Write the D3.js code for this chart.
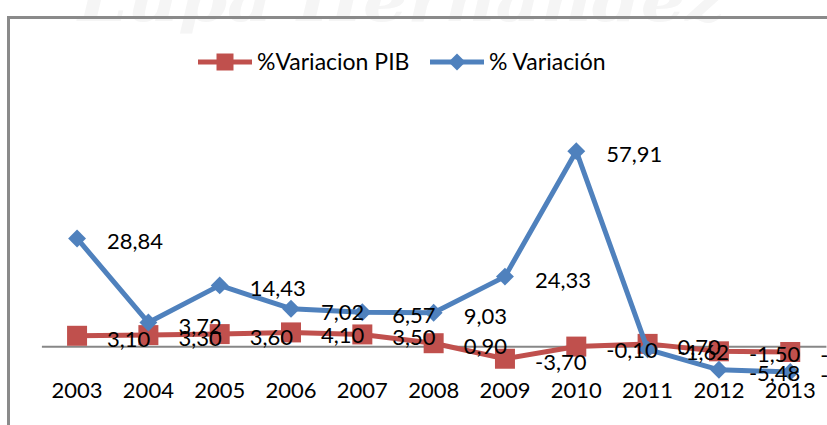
<!DOCTYPE html>
<html>
<head>
<meta charset="utf-8">
<script src="https://cdn.jsdelivr.net/npm/d3@7"></script>
<style>
  body { margin: 0; background: #fff; }
  text { font-family: Lato, "Open Sans", sans-serif; }
</style>
</head>
<body>
<div id="chartDiv"></div>
<script>
// years on the x axis
var years = ["2003", "2004", "2005", "2006", "2007", "2008", "2009", "2010", "2011", "2012", "2013"];
// %Variacion PIB
var pib = [3.10, 3.30, 3.60, 4.10, 3.50, 0.90, -3.70, -0.10, 0.70, -1.50, -1.70];
// % Variación (stacked on top of PIB, like the excel "stacked line" chart)
var variacion = [28.84, 3.72, 14.43, 7.02, 6.57, 9.03, 24.33, 57.91, -1.62, -5.48, -5.90];
var seriesNames = ["%Variacion PIB", "% Variación"];

var width = 827, height = 425;
var red = "#C0504D", blue = "#4F81BD";

var svg = d3.select("#chartDiv").append("svg")
    .attr("width", width)
    .attr("height", height);

// faint watermark on top
svg.append("text")
    .attr("x", 78)
    .attr("y", 21)
    .attr("textLength", 647)
    .attr("lengthAdjust", "spacingAndGlyphs")
    .style("font-family", "'DejaVu Serif', serif")
    .style("font-weight", "bold")
    .style("font-style", "italic")
    .style("font-size", "58px")
    .style("fill", "#f5f5f5")
    .text("Lupa Hernandez");

// chart frame (runs off the right and bottom)
svg.append("path")
    .attr("d", "M8.5," + (height + 5) + "V17.5H" + (width + 5))
    .attr("fill", "none")
    .attr("stroke", "#8a8a8a")
    .attr("stroke-width", 3);

var x = d3.scaleBand()
    .domain(years)
    .range([41.4, 825.9]);

var y = d3.scaleLinear()
    .domain([-10, 70])
    .range([380, 110]);

var cx = function(d, i) { return x(years[i]) + x.bandwidth() / 2; };

var locale = d3.formatLocale({decimal: ",", thousands: ".", grouping: [3], currency: ["", ""], minus: "-"});
var fmt = locale.format(".2f");

var totals = pib.map(function(p, i) { return p + variacion[i]; });

// category axis on the zero line
var xAxis = d3.axisBottom(x)
    .tickSize(0)
    .tickSizeOuter(0)
    .tickPadding(36);

var gx = svg.append("g")
    .attr("transform", "translate(0," + y(0) + ")")
    .call(xAxis);
gx.select(".domain").attr("stroke", "#878787").attr("stroke-width", 2);
gx.selectAll(".tick text")
    .style("font-family", "Lato, sans-serif")
    .style("font-size", "22px")
    .attr("fill", "#000");

var line = d3.line()
    .x(cx)
    .y(function(d) { return y(d); });

// PIB series
svg.append("path")
    .datum(pib)
    .attr("d", line)
    .attr("fill", "none")
    .attr("stroke", red)
    .attr("stroke-width", 5)
    .attr("stroke-linejoin", "round");

svg.selectAll(".pibMark")
    .data(pib)
    .enter().append("path")
    .attr("class", "pibMark")
    .attr("d", d3.symbol(d3.symbolSquare, 400))
    .attr("transform", function(d, i) { return "translate(" + cx(d, i) + "," + y(d) + ")"; })
    .attr("fill", red);

// variacion series, stacked
svg.append("path")
    .datum(totals)
    .attr("d", line)
    .attr("fill", "none")
    .attr("stroke", blue)
    .attr("stroke-width", 5)
    .attr("stroke-linejoin", "round");

svg.selectAll(".varMark")
    .data(totals)
    .enter().append("path")
    .attr("class", "varMark")
    .attr("d", d3.symbol(d3.symbolSquare, 160))
    .attr("transform", function(d, i) { return "translate(" + cx(d, i) + "," + y(d) + ") rotate(45)"; })
    .attr("fill", blue);

// data labels, to the right of the points
svg.selectAll(".pibLabel")
    .data(pib)
    .enter().append("text")
    .attr("class", "pibLabel")
    .attr("x", function(d, i) { return cx(d, i) + 30; })
    .attr("y", function(d) { return y(d); })
    .attr("dy", "0.5em")
    .style("font-size", "22px")
    .text(function(d) { return fmt(d); });

svg.selectAll(".varLabel")
    .data(variacion)
    .enter().append("text")
    .attr("class", "varLabel")
    .attr("x", function(d, i) { return cx(d, i) + 30; })
    .attr("y", function(d, i) { return y(totals[i]); })
    .attr("dy", "0.5em")
    .style("font-size", "22px")
    .text(function(d) { return fmt(d); });

// legend
var legend = svg.append("g");
var items = [
    {name: seriesNames[0], color: red, x0: 198, shape: "square"},
    {name: seriesNames[1], color: blue, x0: 430, shape: "diamond"}
];
items.forEach(function(it) {
    legend.append("line")
        .attr("x1", it.x0).attr("x2", it.x0 + 54)
        .attr("y1", 62).attr("y2", 62)
        .attr("stroke", it.color)
        .attr("stroke-width", 5);
    legend.append("path")
        .attr("d", d3.symbol(d3.symbolSquare, it.shape == "square" ? 289 : 144))
        .attr("transform", "translate(" + (it.x0 + 27) + ",62)" + (it.shape == "diamond" ? " rotate(45)" : ""))
        .attr("fill", it.color);
    legend.append("text")
        .attr("x", it.x0 + 59)
        .attr("y", 69.5)
        .style("font-size", "23px")
        .text(it.name);
});
</script>
</body>
</html>
